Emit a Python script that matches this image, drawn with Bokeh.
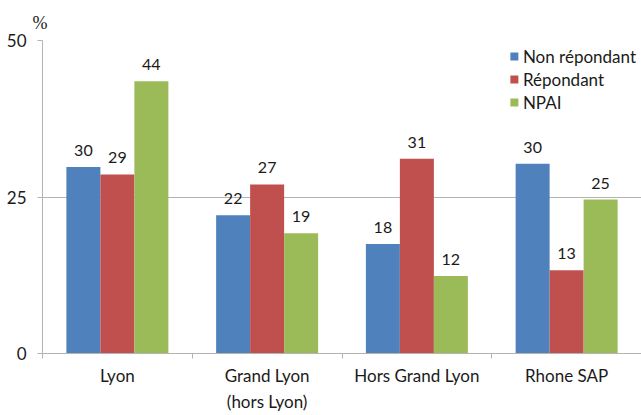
from bokeh.plotting import figure
from bokeh.models import (ColumnDataSource, FixedTicker, Range1d, Legend, LegendItem)
from bokeh.transform import dodge
from bokeh.core.properties import value
from bokeh.embed import file_html
from bokeh.resources import INLINE

categories = ["Lyon", "Grand Lyon\n(hors Lyon)", "Hors Grand Lyon", "Rhone SAP"]
series_names = ["Non répondant", "Répondant", "NPAI"]
non_repondant = [29.8, 22.1, 17.5, 30.3]
repondant = [28.6, 27.0, 31.1, 13.3]
npai = [43.5, 19.2, 12.4, 24.6]
y_ticks = [0, 25, 50]
unit_label = "%"

colors = ["#4F81BD", "#C0504D", "#9BBB59"]
FONT = "Lato"
TXT = "#1a1a1a"
W, H = 641, 415
BAR = 0.227

pos = [i + 0.5 for i in range(len(categories))]
src = ColumnDataSource(dict(
    x=pos,
    v0=non_repondant, v1=repondant, v2=npai,
    t0=[str(round(v)) for v in non_repondant],
    t1=[str(round(v)) for v in repondant],
    t2=[str(round(v)) for v in npai],
))

p = figure(width=W, height=H, output_backend="svg", toolbar_location=None,
           x_range=Range1d(0, len(categories)), y_range=Range1d(0, 50),
           min_border_left=42, min_border_right=0, min_border_top=40,
           min_border_bottom=60)
p.outline_line_color = None
p.background_fill_color = "white"
p.border_fill_color = "white"

p.title.text = unit_label
p.title.text_font = "Liberation Serif"
p.title.text_font_size = "18px"
p.title.text_font_style = "normal"
p.title.text_color = TXT
p.title.align = "left"
p.title.offset = -10
p.title.standoff = 16

items = []
for k, (name, col) in enumerate(zip(series_names, colors)):
    off = (k - 1) * BAR
    r = p.vbar(x=dodge("x", off, range=p.x_range), top=f"v{k}", width=BAR,
               source=src, fill_color=col, line_color=None)
    p.text(x=dodge("x", off, range=p.x_range), y=f"v{k}", text=f"t{k}", source=src,
           text_align="center", text_baseline="bottom", y_offset=-11,
           text_font=value(FONT), text_font_size="16px", text_color=TXT)
    items.append(LegendItem(label=name, renderers=[r]))

legend = Legend(items=items, location="top_right", border_line_color=None,
                background_fill_alpha=0, label_text_font=FONT,
                label_text_font_size="17px", label_text_color=TXT,
                glyph_width=10, glyph_height=10, label_standoff=4, spacing=1,
                padding=4, margin=5, label_height=22)
p.add_layout(legend)

GRID = "#B3B3B3"
p.xgrid.grid_line_color = None
p.ygrid.grid_line_color = GRID
p.ygrid.ticker = FixedTicker(ticks=y_ticks)

p.yaxis.ticker = FixedTicker(ticks=y_ticks)
p.yaxis.axis_line_color = GRID
p.yaxis.major_tick_line_color = GRID
p.yaxis.major_tick_out = 5
p.yaxis.major_tick_in = 0
p.yaxis.minor_tick_line_color = None
p.yaxis.major_label_standoff = 11
p.yaxis.major_label_text_font = FONT
p.yaxis.major_label_text_font_size = "17px"
p.yaxis.major_label_text_color = TXT

p.xaxis.ticker = FixedTicker(ticks=pos, minor_ticks=list(range(len(categories) + 1)))
p.xaxis.major_label_overrides = {pv: c for pv, c in zip(pos, categories)}
p.xaxis.axis_line_color = GRID
p.xaxis.major_tick_line_color = None
p.xaxis.major_tick_out = 0
p.xaxis.major_tick_in = 0
p.xaxis.minor_tick_line_color = GRID
p.xaxis.minor_tick_out = 5
p.xaxis.minor_tick_in = 0
p.xaxis.major_label_standoff = 6
p.xaxis.major_label_text_font = FONT
p.xaxis.major_label_text_font_size = "17px"
p.xaxis.major_label_text_line_height = 1.28
p.xaxis.major_label_text_color = TXT

open("out.html", "w").write(file_html(p, INLINE))
